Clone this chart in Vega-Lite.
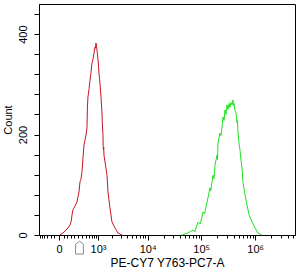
{
  "$schema": "https://vega.github.io/schema/vega-lite/v6.json",
  "width": 256,
  "height": 231,
  "autosize": "none",
  "padding": {"left": 39, "top": 4, "right": 6, "bottom": 39},
  "background": "white",
  "config": {
    "view": {"stroke": "black", "strokeWidth": 1},
    "font": "Liberation Sans",
    "axis": {"domainColor": "black", "tickColor": "black", "labelColor": "black", "titleColor": "black", "grid": false, "labelFont": "Liberation Sans", "titleFont": "Liberation Sans", "labelFontSize": 11, "titleFontWeight": "normal", "labelOverlap": false}
  },
  "datasets": {
    "hist": [
      {"s": "a", "x": 10, "c": 0}, {"s": "a", "x": 43, "c": 4}, {"s": "a", "x": 70, "c": 8}, {"s": "a", "x": 95, "c": 12},
      {"s": "a", "x": 120, "c": 16}, {"s": "a", "x": 140, "c": 20}, {"s": "a", "x": 160, "c": 28}, {"s": "a", "x": 173, "c": 40},
      {"s": "a", "x": 190, "c": 50}, {"s": "a", "x": 230, "c": 58}, {"s": "a", "x": 269, "c": 66}, {"s": "a", "x": 300, "c": 80},
      {"s": "a", "x": 314, "c": 86}, {"s": "a", "x": 330, "c": 100}, {"s": "a", "x": 338, "c": 106}, {"s": "a", "x": 352, "c": 108},
      {"s": "a", "x": 363, "c": 112}, {"s": "a", "x": 388, "c": 125}, {"s": "a", "x": 415, "c": 153}, {"s": "a", "x": 444, "c": 179},
      {"s": "a", "x": 504, "c": 199}, {"s": "a", "x": 536, "c": 214}, {"s": "a", "x": 550, "c": 255}, {"s": "a", "x": 569, "c": 275},
      {"s": "a", "x": 610, "c": 292}, {"s": "a", "x": 641, "c": 308}, {"s": "a", "x": 679, "c": 324}, {"s": "a", "x": 718, "c": 342},
      {"s": "a", "x": 760, "c": 350}, {"s": "a", "x": 803, "c": 362}, {"s": "a", "x": 849, "c": 374}, {"s": "a", "x": 870, "c": 372},
      {"s": "a", "x": 895, "c": 382}, {"s": "a", "x": 920, "c": 376}, {"s": "a", "x": 945, "c": 368}, {"s": "a", "x": 970, "c": 360},
      {"s": "a", "x": 996, "c": 350}, {"s": "a", "x": 1020, "c": 340}, {"s": "a", "x": 1049, "c": 322}, {"s": "a", "x": 1080, "c": 312},
      {"s": "a", "x": 1105, "c": 302}, {"s": "a", "x": 1164, "c": 275}, {"s": "a", "x": 1224, "c": 243}, {"s": "a", "x": 1250, "c": 219},
      {"s": "a", "x": 1289, "c": 200}, {"s": "a", "x": 1300, "c": 178}, {"s": "a", "x": 1320, "c": 170}, {"s": "a", "x": 1335, "c": 175},
      {"s": "a", "x": 1354, "c": 159}, {"s": "a", "x": 1494, "c": 133}, {"s": "a", "x": 1571, "c": 119}, {"s": "a", "x": 1649, "c": 86},
      {"s": "a", "x": 1815, "c": 54}, {"s": "a", "x": 1998, "c": 26}, {"s": "a", "x": 2304, "c": 14}, {"s": "a", "x": 2652, "c": 4},
      {"s": "a", "x": 3188, "c": 0},
      {"s": "b", "x": 44200, "c": 0}, {"s": "b", "x": 56800, "c": 4}, {"s": "b", "x": 70400, "c": 10}, {"s": "b", "x": 76000, "c": 6},
      {"s": "b", "x": 83500, "c": 20}, {"s": "b", "x": 87200, "c": 26}, {"s": "b", "x": 95000, "c": 22}, {"s": "b", "x": 103400, "c": 36},
      {"s": "b", "x": 108000, "c": 46}, {"s": "b", "x": 115000, "c": 42}, {"s": "b", "x": 122600, "c": 56}, {"s": "b", "x": 133500, "c": 74},
      {"s": "b", "x": 145400, "c": 94}, {"s": "b", "x": 150000, "c": 88}, {"s": "b", "x": 158400, "c": 105}, {"s": "b", "x": 165400, "c": 119},
      {"s": "b", "x": 172000, "c": 112}, {"s": "b", "x": 180100, "c": 139}, {"s": "b", "x": 196200, "c": 159}, {"s": "b", "x": 200000, "c": 150},
      {"s": "b", "x": 204700, "c": 183}, {"s": "b", "x": 222800, "c": 203}, {"s": "b", "x": 233000, "c": 198}, {"s": "b", "x": 243000, "c": 215},
      {"s": "b", "x": 253500, "c": 235}, {"s": "b", "x": 265000, "c": 228}, {"s": "b", "x": 276000, "c": 249}, {"s": "b", "x": 288000, "c": 240},
      {"s": "b", "x": 300600, "c": 259}, {"s": "b", "x": 314000, "c": 250}, {"s": "b", "x": 328000, "c": 262}, {"s": "b", "x": 342000, "c": 254},
      {"s": "b", "x": 356000, "c": 264}, {"s": "b", "x": 372500, "c": 259}, {"s": "b", "x": 388000, "c": 269}, {"s": "b", "x": 396000, "c": 258},
      {"s": "b", "x": 405500, "c": 262}, {"s": "b", "x": 420000, "c": 248}, {"s": "b", "x": 441800, "c": 243}, {"s": "b", "x": 460400, "c": 223},
      {"s": "b", "x": 470000, "c": 228}, {"s": "b", "x": 481000, "c": 203}, {"s": "b", "x": 501700, "c": 183}, {"s": "b", "x": 523800, "c": 169},
      {"s": "b", "x": 546000, "c": 149}, {"s": "b", "x": 570400, "c": 133}, {"s": "b", "x": 594600, "c": 105}, {"s": "b", "x": 647500, "c": 80},
      {"s": "b", "x": 705000, "c": 60}, {"s": "b", "x": 769600, "c": 40}, {"s": "b", "x": 873500, "c": 26}, {"s": "b", "x": 993700, "c": 14},
      {"s": "b", "x": 1128000, "c": 4}, {"s": "b", "x": 1337000, "c": 0}
    ],
    "gate": [{"x": 325, "c": -25}]
  },
  "resolve": {"axis": {"x": "independent"}},
  "encoding": {
    "y": {
      "field": "c", "type": "quantitative",
      "scale": {"domain": [0, 460], "nice": false},
      "axis": {
        "values": [0, 40, 80, 120, 160, 200, 240, 280, 320, 360, 400, 440],
        "labelExpr": "datum.value == 0 ? '0' : datum.value == 200 ? '200' : datum.value == 400 ? '400' : ''",
        "labelAngle": -90, "labelAlign": "center", "labelBaseline": "bottom",
        "labelOverlap": false, "labelFlush": false,
        "tickSize": 5, "labelPadding": 6,
        "title": "Count", "titleFontSize": 11, "titlePadding": 4
      }
    }
  },
  "layer": [
    {
      "data": {"name": "hist"},
      "mark": {"type": "line", "strokeWidth": 1},
      "encoding": {
        "x": {
          "field": "x", "type": "quantitative",
          "scale": {"type": "symlog", "constant": 233, "domain": [-313, 5460000], "nice": false, "zero": false},
          "axis": {
            "orient": "bottom",
            "values": [0, 1000, 10000, 100000, 1000000],
            "labelExpr": "datum.value == 0 ? '0' : datum.value == 1000 ? '10³' : datum.value == 10000 ? '10⁴' : datum.value == 100000 ? '10⁵' : '10⁶'",
            "tickSize": 5, "labelPadding": 3, "labelFontSize": 11, "labelOverlap": false,
            "title": "PE-CY7 Y763-PC7-A", "titleFontSize": 12, "titlePadding": 3
          }
        },
        "color": {
          "field": "s", "type": "nominal",
          "scale": {"domain": ["a", "b"], "range": ["#c8141e", "#22e022"]},
          "legend": null
        }
      }
    },
    {
      "data": {"name": "hist"},
      "mark": {"type": "line", "opacity": 0},
      "encoding": {
        "x": {
          "field": "x", "type": "quantitative",
          "axis": {
            "orient": "bottom",
            "values": [-300, -250, -200, -150, -100, -50, 50, 100, 150, 200, 300, 400, 500, 600, 700, 800, 900, 2000, 3000, 4000, 5000, 6000, 7000, 8000, 9000, 20000, 30000, 40000, 50000, 60000, 70000, 80000, 90000, 200000, 300000, 400000, 500000, 600000, 700000, 800000, 900000, 2000000, 3000000, 4000000, 5000000],
            "labels": false, "tickSize": 3, "title": null, "domain": false
          }
        },
        "detail": {"field": "s"}
      }
    },
    {
      "data": {"name": "gate"},
      "mark": {"type": "point", "shape": "M-0.6,1 L-0.6,-0.5 L0,-1 L0.6,-0.5 L0.6,1 Z", "size": 169, "stroke": "#8a8a8a", "strokeWidth": 1, "fill": "white", "filled": true, "opacity": 1},
      "encoding": {
        "x": {"field": "x", "type": "quantitative", "axis": null}
      }
    }
  ]
}
